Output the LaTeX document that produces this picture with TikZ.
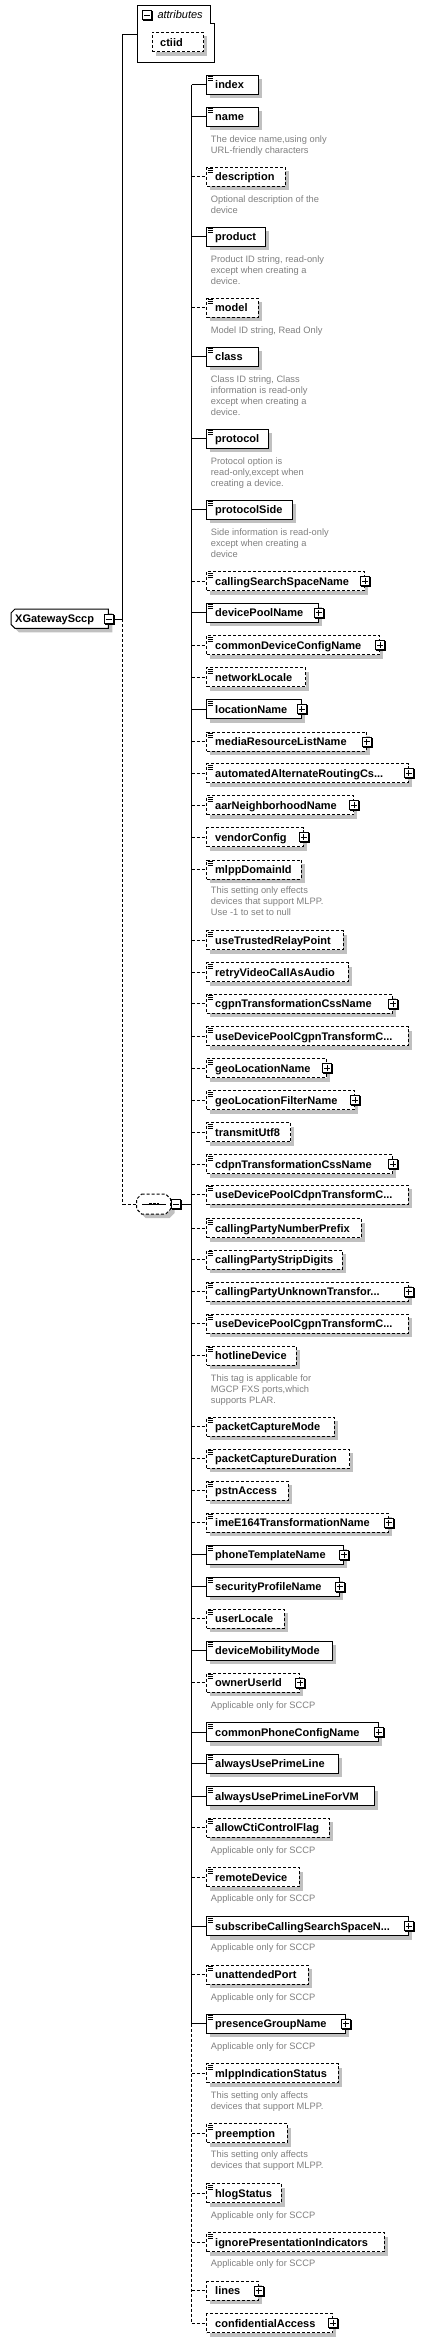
\documentclass[tikz,border=0pt]{standalone}
\usepackage{fontspec}
\setmainfont{Liberation Sans}
\usetikzlibrary{calc}
\definecolor{shgray}{RGB}{192,192,192}
\definecolor{docgray}{RGB}{128,128,128}
\tikzset{
  conn/.style={line width=1pt},
  opt/.style={dash pattern=on 3pt off 2pt},
  elbox/.style={draw, fill=white, line width=1pt, minimum height=19pt, inner sep=0pt, anchor=west},
  ellabel/.style={font=\bfseries\fontsize{11}{13}\selectfont, anchor=base west, inner sep=0pt},
  doclabel/.style={font=\fontsize{9.3}{11}\selectfont, text=docgray, anchor=base west, inner sep=0pt},
  plusbox/.style={draw, fill=white, line width=1pt, minimum size=9pt, inner sep=0pt,
    path picture={\draw[line width=1pt] ([xshift=-3pt]path picture bounding box.center) -- ([xshift=3pt]path picture bounding box.center)
      ([yshift=-3pt]path picture bounding box.center) -- ([yshift=3pt]path picture bounding box.center);}},
  minusbox/.style={draw, fill=white, line width=1pt, minimum size=9pt, inner sep=0pt,
    path picture={\draw[line width=1pt] ([xshift=-3pt]path picture bounding box.center) -- ([xshift=3pt]path picture bounding box.center);}},
}
% element box: id, y, right, style, text
\newcommand{\xsElN}[5]{%
  \fill[shgray] (210.3,#2-5.5) rectangle (#3+4,#2+13.5);
  \draw[conn,#4] (bus |- 0,#2) -- (206.3,#2);
  \node[elbox,#4,minimum width={#3-206.3}] (#1) at (206.3,#2) {};
  \node[ellabel] (#1t) at (215,#2+4) {#5};
}
% element box with doc icon
\newcommand{\xsEl}[5]{%
  \xsElN{#1}{#2}{#3}{#4}{#5}%
  \draw[line width=0.8pt] ([shift={(1.5,1.8)}]#1.north west) -- ++(5.5,0)
    ([shift={(1.5,3.8)}]#1.north west) -- ++(5.5,0)
    ([shift={(1.5,5.8)}]#1.north west) -- ++(5.5,0);
}
\newcommand{\xsPl}[1]{%
  \fill ([shift={(-4,-4)}]#1.east) rectangle ([shift={(6,6)}]#1.east);
  \node[plusbox] (#1p) at (#1.east) {};
}
\newcommand{\xsDoc}[3]{\node[doclabel] (#1) at (210.7,#2+3.3) {#3};}
\begin{document}
\begin{tikzpicture}[x=1pt,y=-1pt]
\fill[white] (0,0) rectangle (422,2342);
\useasboundingbox (0,0) rectangle (422,2342);
\coordinate (bus) at (191.7,0);
\coordinate (busA) at (122.7,0);

% attributes group
\node[inner sep=0pt, minimum width=77.4pt, minimum height=57pt, anchor=north west] (attr) at (137.3,5.3) {};
\draw[line width=1pt, fill=white] (137.3,5.3) -- (210.7,5.3) -- (210.7,23.3) -- (214.7,23.3) -- (214.7,62.3) -- (137.3,62.3) -- cycle;
\fill (143,11) rectangle (153,21);
\node[minusbox] (attrm) at (147,15) {};
\node[font=\itshape\fontsize{11}{13}\selectfont, anchor=base west, inner sep=0pt] (attrt) at (157.3,19) {attributes};
\fill[shgray] (155.7,36.3) rectangle (207,55.7);
\node[elbox,opt,minimum width=51.3pt,minimum height=19.4pt] (ctiid) at (151.7,42) {};
\node[ellabel] (ctiidt) at (160,46) {ctiid};

% root
\fill[shgray] (19,613) -- (112.3,613) -- (112.3,632.3) -- (19,632.3) -- (15,628.3) -- (15,617) -- cycle;
\draw[line width=1pt, fill=white] (15,609) -- (108.3,609) -- (108.3,628.3) -- (15,628.3) -- (11,624.3) -- (11,613) -- cycle;
\node[ellabel] (root) at (15,622.7) {XGatewaySccp};
\fill (104.5,615) rectangle (114.5,625);
\node[minusbox] (rootm) at (108.5,619) {};

% sequence compositor
\fill[shgray] (145.7,1198) -- (169.7,1198) -- (174.7,1203) -- (174.7,1213) -- (169.7,1218) -- (145.7,1218) -- (140.7,1213) -- (140.7,1203) -- cycle;
\draw[line width=1pt, opt, fill=white] (141.7,1194) -- (165.7,1194) -- (170.7,1199) -- (170.7,1209) -- (165.7,1214) -- (141.7,1214) -- (136.7,1209) -- (136.7,1199) -- cycle;
\node[inner sep=0pt, minimum width=34pt, minimum height=20pt] (seq) at (153.7,1204) {};
\draw[line width=1pt] (142,1204) -- (165.7,1204);
\foreach \dx in {150.5,154.2,157.9} \fill (\dx-1.3,1202.7) rectangle (\dx+1.3,1205.3);
\fill (172,1200.2) rectangle (182,1210.2);
\node[minusbox] (seqm) at (176,1204.2) {};

% left connectors
\draw[conn] (attr.west) -- (busA |- attr.west) -- (busA |- rootm.east) -- (rootm.east);
\draw[conn,opt] (busA |- rootm.east) -- (busA |- seq.west) -- (seq.west);
\draw[conn] (seqm.east) -- (bus |- seqm.east);

% children
\xsEl{n01}{84.8}{257.7}{solid}{index}
\xsEl{n02}{116.8}{257.7}{solid}{name}
\xsDoc{n02a}{138.7}{The device name,using only}
\xsDoc{n02b}{149.7}{URL-friendly characters}
\xsEl{n03}{176.8}{284.7}{opt}{description}
\xsDoc{n03a}{199}{Optional description of the}
\xsDoc{n03b}{209.7}{device}
\xsEl{n04}{236.8}{264.7}{solid}{product}
\xsDoc{n04a}{258.7}{Product ID string, read-only}
\xsDoc{n04b}{269.7}{except when creating a}
\xsDoc{n04c}{280.7}{device.}
\xsEl{n05}{307.8}{257.7}{opt}{model}
\xsDoc{n05a}{329.7}{Model ID string, Read Only}
\xsEl{n06}{356.8}{257.7}{solid}{class}
\xsDoc{n06a}{378.7}{Class ID string, Class}
\xsDoc{n06b}{389.7}{information is read-only}
\xsDoc{n06c}{400.7}{except when creating a}
\xsDoc{n06d}{411.7}{device.}
\xsEl{n07}{438.8}{267.7}{solid}{protocol}
\xsDoc{n07a}{460.7}{Protocol option is}
\xsDoc{n07b}{471.7}{read-only,except when}
\xsDoc{n07c}{482.7}{creating a device.}
\xsEl{n08}{509.8}{291.7}{solid}{protocolSide}
\xsDoc{n08a}{531.7}{Side information is read-only}
\xsDoc{n08b}{542.7}{except when creating a}
\xsDoc{n08c}{553.7}{device}
\xsEl{n09}{581.2}{364}{opt}{callingSearchSpaceName}\xsPl{n09}
\xsEl{n10}{612.8}{317.7}{solid}{devicePoolName}\xsPl{n10}
\xsEl{n11}{645.2}{379}{opt}{commonDeviceConfigName}\xsPl{n11}
\xsEl{n12}{677.2}{305}{opt}{networkLocale}
\xsEl{n13}{709.2}{300.7}{solid}{locationName}\xsPl{n13}
\xsEl{n14}{741.5}{365.7}{opt}{mediaResourceListName}\xsPl{n14}
\xsEl{n15}{773.2}{407.7}{opt}{automatedAlternateRoutingCs...}\xsPl{n15}
\xsEl{n16}{805.2}{353.3}{opt}{aarNeighborhoodName}\xsPl{n16}
\xsElN{n17}{837.2}{302.7}{opt}{vendorConfig}\xsPl{n17}
\xsEl{n18}{869.5}{300.7}{opt}{mlppDomainId}
\xsDoc{n18a}{890.3}{This setting only effects}
\xsDoc{n18b}{901.3}{devices that support MLPP.}
\xsDoc{n18c}{912.3}{Use -1 to set to null}
\xsEl{n19}{940.2}{342.7}{opt}{useTrustedRelayPoint}
\xsEl{n20}{972.2}{347.7}{opt}{retryVideoCallAsAudio}
\xsEl{n21}{1003.8}{392}{opt}{cgpnTransformationCssName}\xsPl{n21}
\xsEl{n22}{1036.2}{407.7}{opt}{useDevicePoolCgpnTransformC...}
\xsEl{n23}{1068.2}{326}{opt}{geoLocationName}\xsPl{n23}
\xsEl{n24}{1100.2}{354}{opt}{geoLocationFilterName}\xsPl{n24}
\xsEl{n25}{1132.2}{290.3}{opt}{transmitUtf8}
\xsEl{n26}{1164.2}{392}{opt}{cdpnTransformationCssName}\xsPl{n26}
\xsEl{n27}{1194.8}{407.7}{opt}{useDevicePoolCdpnTransformC...}
\xsEl{n28}{1228.2}{360.7}{opt}{callingPartyNumberPrefix}
\xsEl{n29}{1259.8}{341.7}{opt}{callingPartyStripDigits}
\xsEl{n30}{1291.8}{407.7}{opt}{callingPartyUnknownTransfor...}\xsPl{n30}
\xsEl{n31}{1323.8}{407.7}{opt}{useDevicePoolCgpnTransformC...}
\xsEl{n32}{1355.8}{295.7}{opt}{hotlineDevice}
\xsDoc{n32a}{1377.7}{This tag is applicable for}
\xsDoc{n32b}{1388.7}{MGCP FXS ports,which}
\xsDoc{n32c}{1399.7}{supports PLAR.}
\xsEl{n33}{1426.8}{333.7}{opt}{packetCaptureMode}
\xsEl{n34}{1458.8}{349}{opt}{packetCaptureDuration}
\xsEl{n35}{1490.8}{287.7}{opt}{pstnAccess}
\xsEl{n36}{1522.8}{387.7}{opt}{imeE164TransformationName}\xsPl{n36}
\xsEl{n37}{1554.8}{343.3}{solid}{phoneTemplateName}\xsPl{n37}
\xsEl{n38}{1586.8}{338.7}{solid}{securityProfileName}\xsPl{n38}
\xsEl{n39}{1618.8}{283.7}{opt}{userLocale}
\xsEl{n40}{1650.8}{331.7}{solid}{deviceMobilityMode}
\xsEl{n41}{1682.8}{299}{opt}{ownerUserId}\xsPl{n41}
\xsDoc{n41a}{1704.7}{Applicable only for SCCP}
\xsEl{n42}{1732.2}{377.7}{solid}{commonPhoneConfigName}\xsPl{n42}
\xsEl{n43}{1763.8}{337.7}{solid}{alwaysUsePrimeLine}
\xsEl{n44}{1796.2}{373.7}{solid}{alwaysUsePrimeLineForVM}
\xsEl{n45}{1827.8}{328.7}{opt}{allowCtiControlFlag}
\xsDoc{n45a}{1849.7}{Applicable only for SCCP}
\xsEl{n46}{1877.2}{298.7}{opt}{remoteDevice}
\xsDoc{n46a}{1898.3}{Applicable only for SCCP}
\xsEl{n47}{1926.2}{407.7}{solid}{subscribeCallingSearchSpaceN...}\xsPl{n47}
\xsDoc{n47a}{1947.3}{Applicable only for SCCP}
\xsEl{n48}{1974.8}{307.7}{opt}{unattendedPort}
\xsDoc{n48a}{1996.7}{Applicable only for SCCP}
\xsEl{n49}{2023.8}{344.7}{solid}{presenceGroupName}\xsPl{n49}
\xsDoc{n49a}{2045.7}{Applicable only for SCCP}
\xsEl{n50}{2073.2}{337.7}{opt}{mlppIndicationStatus}
\xsDoc{n50a}{2094.7}{This setting only affects}
\xsDoc{n50b}{2105.7}{devices that support MLPP.}
\xsEl{n51}{2133.2}{286.7}{opt}{preemption}
\xsDoc{n51a}{2154.3}{This setting only affects}
\xsDoc{n51b}{2165.3}{devices that support MLPP.}
\xsEl{n52}{2193.2}{280.7}{opt}{hlogStatus}
\xsDoc{n52a}{2214.7}{Applicable only for SCCP}
\xsEl{n53}{2242.2}{383.7}{opt}{ignorePresentationIndicators}
\xsDoc{n53a}{2263.3}{Applicable only for SCCP}
\xsElN{n54}{2290.8}{257.7}{opt}{lines}\xsPl{n54}
\xsElN{n55}{2323.2}{332.3}{opt}{confidentialAccess}\xsPl{n55}

% vertical bus of the sequence
\draw[conn] (bus |- n01.west) -- (bus |- n49.west);
\draw[conn,opt] (bus |- n49.west) -- (bus |- n55.west);
\end{tikzpicture}
\end{document}
